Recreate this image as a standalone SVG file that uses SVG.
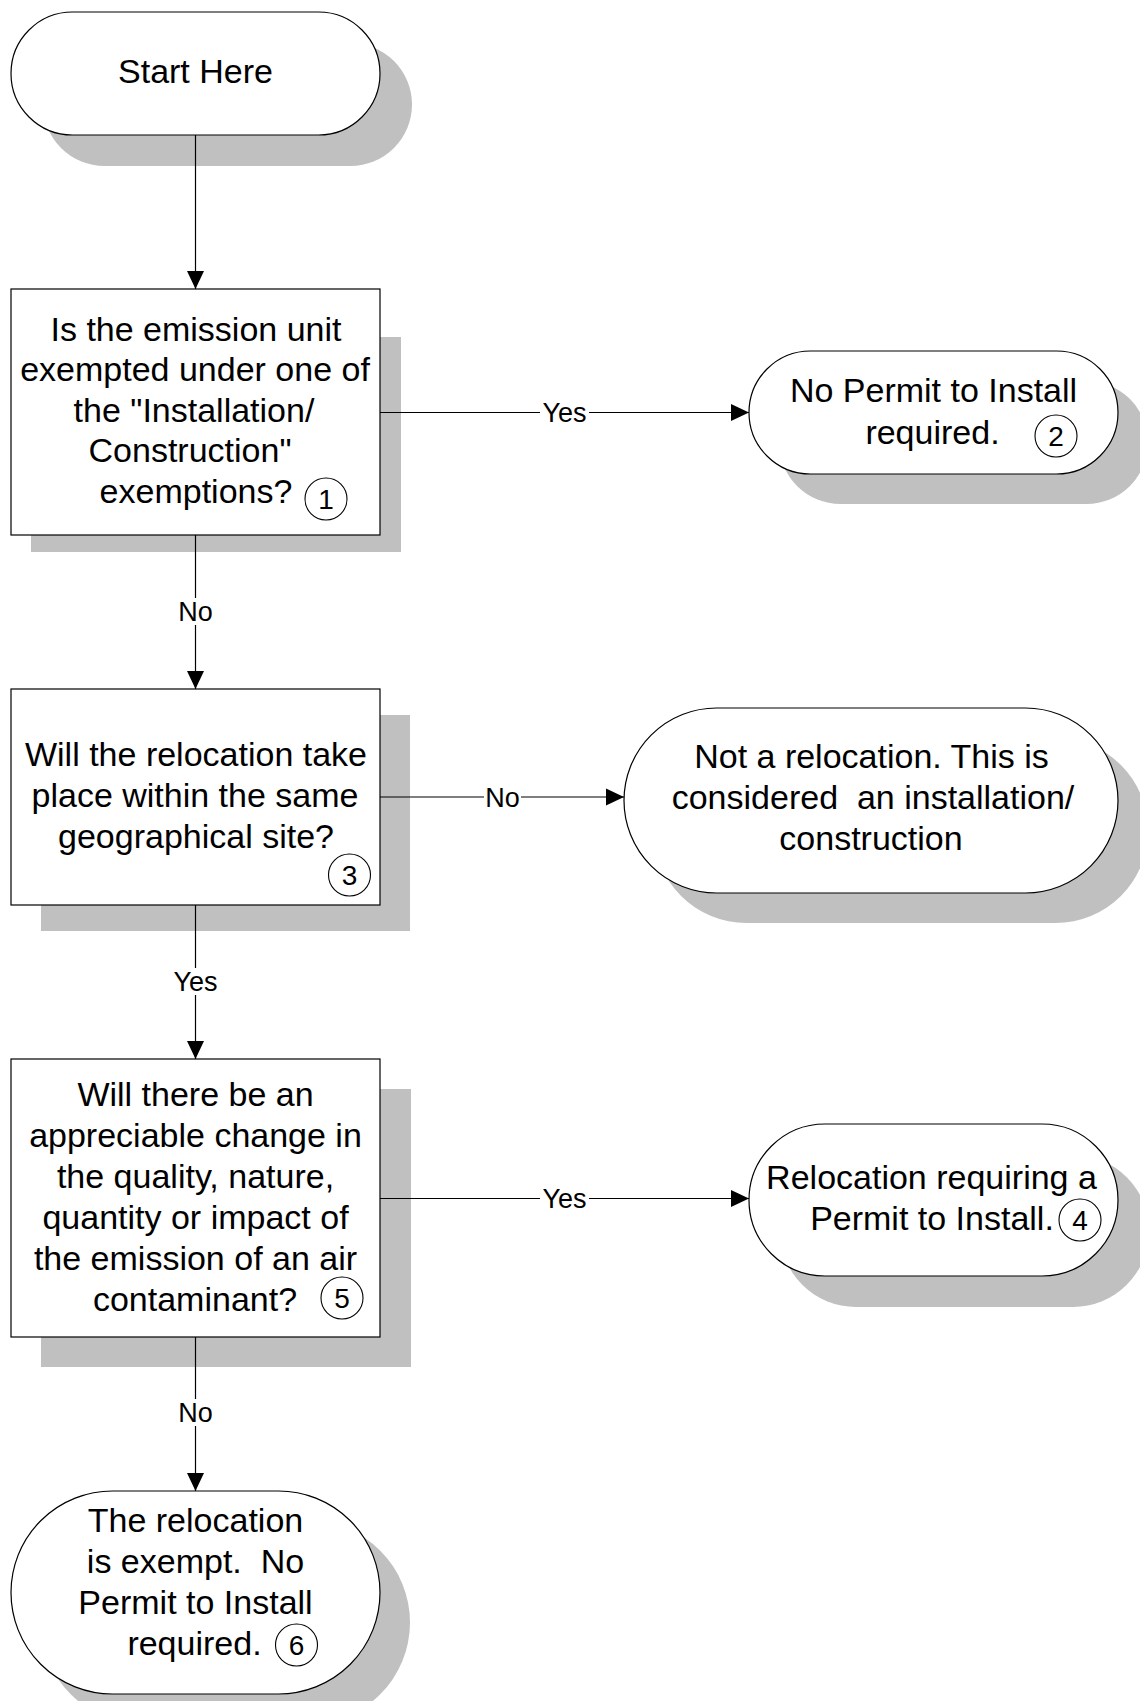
<svg xmlns="http://www.w3.org/2000/svg" width="1140" height="1701" viewBox="0 0 1140 1701">
<defs>
<style>
.sh{fill:#c0c0c0;stroke:none}
.nd{fill:#fff;stroke:#000;stroke-width:1.2}
.t{font-family:"Liberation Sans",Arial,sans-serif;font-size:34px;fill:#000;text-anchor:middle}
.n{font-family:"Liberation Sans",Arial,sans-serif;font-size:28px;fill:#000;text-anchor:middle}
.c{fill:#fff;stroke:#000;stroke-width:1.1}
.ln{fill:none;stroke:#000;stroke-width:1.2}
.lb{font-family:"Liberation Sans",Arial,sans-serif;font-size:27px;fill:#000;text-anchor:middle}
.lbg{fill:#fff;stroke:none}
</style>
<marker id="ah" markerUnits="userSpaceOnUse" markerWidth="18" markerHeight="18" refX="18" refY="9" orient="auto">
<path d="M0,0.5 L18,9 L0,17.5 Z" fill="#000"/>
</marker>
</defs>
<rect width="1140" height="1701" fill="#fff"/>

<g id="start">
<rect class="sh" x="43" y="43" width="369" height="123" rx="61.5"/>
<rect class="nd" x="11" y="12" width="369" height="123" rx="61.5"/>
<text class="t" x="195.5" y="83">Start Here</text>
</g>

<g id="q1">
<rect class="sh" x="31" y="337" width="370" height="215"/>
<rect class="nd" x="11" y="289" width="369" height="246"/>
<text class="t" x="196" y="340.5">Is the emission unit</text>
<text class="t" x="195" y="381">exempted under one of</text>
<text class="t" x="194" y="421.5">the "Installation/</text>
<text class="t" x="190" y="462">Construction"</text>
<text class="t" x="196" y="503">exemptions?</text>
<circle class="c" cx="326" cy="499" r="21"/>
<text class="n" x="326" y="509">1</text>
</g>

<g id="r2">
<rect class="sh" x="779" y="381" width="369" height="123" rx="61.5"/>
<rect class="nd" x="749" y="351" width="369" height="123" rx="61.5"/>
<text class="t" x="933.5" y="402">No Permit to Install</text>
<text class="t" x="932.5" y="444">required.</text>
<circle class="c" cx="1056" cy="436" r="21"/>
<text class="n" x="1056" y="446">2</text>
</g>

<g id="q3">
<rect class="sh" x="41" y="715" width="369" height="216"/>
<rect class="nd" x="11" y="689" width="369" height="216"/>
<text class="t" x="196" y="765.5">Will the relocation take</text>
<text class="t" x="195" y="806.5">place within the same</text>
<text class="t" x="196" y="847.5">geographical site?</text>
<circle class="c" cx="349.5" cy="875" r="21"/>
<text class="n" x="349.5" y="885">3</text>
</g>

<g id="r3">
<rect class="sh" x="654" y="738" width="494" height="185" rx="92.5"/>
<rect class="nd" x="624" y="708" width="494" height="185" rx="92.5"/>
<text class="t" x="871.5" y="768">Not a relocation. This is</text>
<text class="t" x="873" y="809" xml:space="preserve">considered  an installation/</text>
<text class="t" x="871" y="850">construction</text>
</g>

<g id="q5">
<rect class="sh" x="41" y="1089" width="370" height="278"/>
<rect class="nd" x="11" y="1059" width="369" height="278"/>
<text class="t" x="195.5" y="1105.5">Will there be an</text>
<text class="t" x="195.5" y="1146.5">appreciable change in</text>
<text class="t" x="195.5" y="1187.5">the quality, nature,</text>
<text class="t" x="195.5" y="1228.5">quantity or impact of</text>
<text class="t" x="195.5" y="1269.5">the emission of an air</text>
<text class="t" x="195" y="1310.5">contaminant?</text>
<circle class="c" cx="342" cy="1298" r="21"/>
<text class="n" x="342" y="1308">5</text>
</g>

<g id="r4">
<rect class="sh" x="780" y="1155" width="369" height="152" rx="76"/>
<rect class="nd" x="749" y="1124" width="369" height="152" rx="76"/>
<text class="t" x="931.5" y="1189">Relocation requiring a</text>
<text class="t" x="932" y="1230">Permit to Install.</text>
<circle class="c" cx="1080" cy="1220" r="21"/>
<text class="n" x="1080" y="1230">4</text>
</g>

<g id="r6">
<rect class="sh" x="41" y="1521" width="369" height="203" rx="101.5"/>
<rect class="nd" x="11" y="1491" width="369" height="203" rx="101.5"/>
<text class="t" x="195.5" y="1532">The relocation</text>
<text class="t" x="195.5" y="1573" xml:space="preserve">is exempt.  No</text>
<text class="t" x="195.5" y="1613.5">Permit to Install</text>
<text class="t" x="194.5" y="1655">required.</text>
<circle class="c" cx="296.5" cy="1645" r="21"/>
<text class="n" x="296.5" y="1655">6</text>
</g>

<g id="connectors">
<line class="ln" x1="195.5" y1="135" x2="195.5" y2="289" marker-end="url(#ah)"/>
<line class="ln" x1="380" y1="412.5" x2="749" y2="412.5" marker-end="url(#ah)"/>
<rect class="lbg" x="540" y="399" width="49" height="27"/>
<text class="lb" x="564.5" y="422">Yes</text>
<line class="ln" x1="195.5" y1="535" x2="195.5" y2="689" marker-end="url(#ah)"/>
<rect class="lbg" x="177" y="598" width="37" height="27"/>
<text class="lb" x="195.5" y="621">No</text>
<line class="ln" x1="380" y1="797" x2="624" y2="797" marker-end="url(#ah)"/>
<rect class="lbg" x="484" y="784" width="37" height="27"/>
<text class="lb" x="502.5" y="806.5">No</text>
<line class="ln" x1="195.5" y1="905" x2="195.5" y2="1059" marker-end="url(#ah)"/>
<rect class="lbg" x="171" y="968" width="49" height="27"/>
<text class="lb" x="195.5" y="991">Yes</text>
<line class="ln" x1="380" y1="1198.5" x2="749" y2="1198.5" marker-end="url(#ah)"/>
<rect class="lbg" x="540" y="1185" width="49" height="27"/>
<text class="lb" x="564.5" y="1208">Yes</text>
<line class="ln" x1="195.5" y1="1337" x2="195.5" y2="1491" marker-end="url(#ah)"/>
<rect class="lbg" x="177" y="1399" width="37" height="27"/>
<text class="lb" x="195.5" y="1422">No</text>
</g>
</svg>
